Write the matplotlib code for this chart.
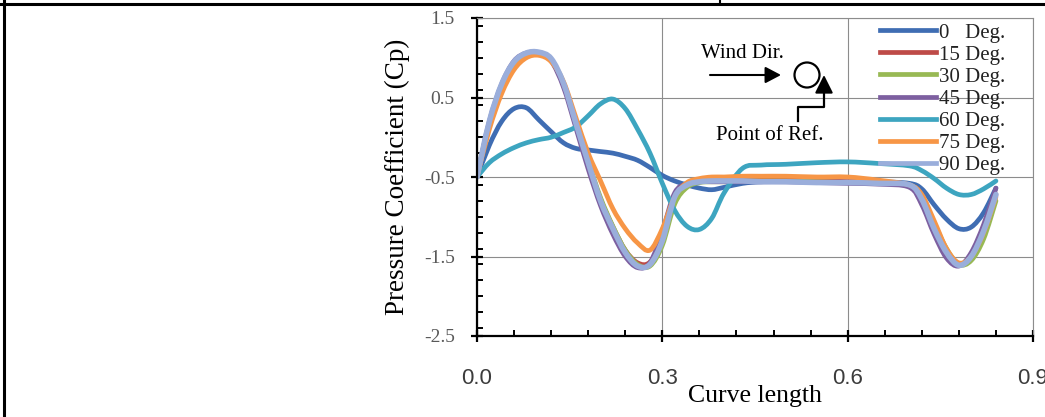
import matplotlib
matplotlib.use("Agg")
import matplotlib.pyplot as plt
import numpy as np
from matplotlib.lines import Line2D
from matplotlib.patches import Ellipse, PathPatch
from matplotlib.path import Path
from matplotlib.ticker import MultipleLocator

# Curve length positions (shared by all wind angles)
curve_length = [0.00, 0.02, 0.04, 0.06, 0.08, 0.10, 0.12, 0.14, 0.16, 0.18,
                0.20, 0.22, 0.24, 0.26, 0.28, 0.30, 0.32, 0.34, 0.36, 0.38,
                0.40, 0.43, 0.46, 0.50, 0.55, 0.60, 0.65, 0.70, 0.72, 0.74,
                0.76, 0.78, 0.80, 0.82, 0.84]

# Pressure coefficient for each wind angle
cp_0 = [-0.50, -0.10, 0.20, 0.36, 0.37, 0.22, 0.07, -0.07, -0.14, -0.16,
        -0.18, -0.20, -0.24, -0.29, -0.38, -0.48, -0.55, -0.60, -0.64, -0.66,
        -0.63, -0.58, -0.56, -0.55, -0.55, -0.56, -0.56, -0.58, -0.65, -0.85,
        -1.03, -1.15, -1.13, -0.95, -0.64]
cp_15 = [-0.50, 0.18, 0.65, 0.94, 1.05, 1.06, 0.97, 0.66, 0.17, -0.33,
         -0.78, -1.13, -1.42, -1.58, -1.57, -1.27, -0.76, -0.60, -0.56, -0.55,
         -0.55, -0.54, -0.54, -0.54, -0.55, -0.56, -0.57, -0.60, -0.77, -1.13,
         -1.44, -1.60, -1.50, -1.20, -0.72]
cp_30 = [-0.50, 0.17, 0.64, 0.94, 1.05, 1.06, 0.98, 0.68, 0.20, -0.30,
         -0.76, -1.12, -1.42, -1.60, -1.62, -1.36, -0.84, -0.63, -0.57, -0.56,
         -0.56, -0.55, -0.55, -0.55, -0.56, -0.57, -0.58, -0.60, -0.74, -1.08,
         -1.40, -1.60, -1.55, -1.28, -0.80]
cp_45 = [-0.50, 0.20, 0.67, 0.96, 1.06, 1.06, 0.96, 0.63, 0.12, -0.40,
         -0.86, -1.22, -1.50, -1.64, -1.58, -1.18, -0.70, -0.58, -0.56, -0.56,
         -0.56, -0.56, -0.56, -0.56, -0.57, -0.58, -0.59, -0.63, -0.85, -1.22,
         -1.52, -1.62, -1.45, -1.10, -0.64]
cp_60 = [-0.50, -0.32, -0.21, -0.13, -0.07, -0.03, 0.00, 0.06, 0.13, 0.27,
         0.42, 0.48, 0.36, 0.10, -0.20, -0.58, -0.92, -1.12, -1.16, -1.02,
         -0.70, -0.39, -0.35, -0.34, -0.32, -0.31, -0.33, -0.36, -0.42, -0.52,
         -0.64, -0.72, -0.72, -0.65, -0.55]
cp_75 = [-0.50, 0.10, 0.55, 0.85, 1.00, 1.03, 0.95, 0.70, 0.25, -0.20,
         -0.55, -0.90, -1.15, -1.33, -1.42, -1.15, -0.75, -0.57, -0.52, -0.50,
         -0.50, -0.49, -0.49, -0.49, -0.50, -0.50, -0.54, -0.60, -0.72, -1.05,
         -1.40, -1.58, -1.50, -1.20, -0.75]
cp_90 = [-0.50, 0.20, 0.67, 0.95, 1.06, 1.07, 0.99, 0.68, 0.18, -0.32,
         -0.80, -1.15, -1.45, -1.62, -1.60, -1.30, -0.75, -0.60, -0.56, -0.55,
         -0.55, -0.55, -0.56, -0.56, -0.57, -0.57, -0.58, -0.60, -0.78, -1.15,
         -1.45, -1.61, -1.50, -1.18, -0.72]

series_labels = ["0   Deg.", "15 Deg.", "30 Deg.", "45 Deg.", "60 Deg.", "75 Deg.", "90 Deg."]
series_values = [cp_0, cp_15, cp_30, cp_45, cp_60, cp_75, cp_90]
series_colors = ["#3F6DB3", "#BE4B48", "#98B954", "#7D5FA0", "#3DA5C0", "#F79646", "#9AAEDB"]

x_ticks = [0.0, 0.3, 0.6, 0.9]
x_tick_labels = ["0.0", "0.3", "0.6", "0.9"]
y_ticks = [1.5, 0.5, -0.5, -1.5, -2.5]
y_tick_labels = ["1.5", "0.5", "-0.5", "-1.5", "-2.5"]


def smooth_path(xs, ys):
    """Smoothed line through every data point (cubic Bezier segments)."""
    p = np.column_stack([xs, ys]).astype(float)
    n = len(p)
    verts = [p[0]]
    codes = [Path.MOVETO]
    for i in range(n - 1):
        p_prev = p[i - 1] if i > 0 else p[i]
        p_next2 = p[i + 2] if i + 2 < n else p[i + 1]
        c1 = p[i] + (p[i + 1] - p_prev) / 6.0
        c2 = p[i + 1] - (p_next2 - p[i]) / 6.0
        verts += [c1, c2, p[i + 1]]
        codes += [Path.CURVE4] * 3
    return Path(verts, codes)


W, H = 1045, 417
fig = plt.figure(figsize=(W / 100, H / 100), dpi=100)
fig.patch.set_facecolor("white")

ax = fig.add_axes([477 / W, 1 - 336 / H, (1033 - 477) / W, (336 - 18) / H])

handles = []
for vals, lab, col in zip(series_values, series_labels, series_colors):
    lw = 4.0 if lab.startswith("90") else 3.4
    ax.add_patch(PathPatch(smooth_path(curve_length, vals), fill=False,
                           edgecolor=col, lw=lw, capstyle="round", joinstyle="round"))
    handles.append(Line2D([], [], color=col, lw=3.4, label=lab))

ax.set_xlim(0, 0.9)
ax.set_ylim(-2.5, 1.5)

grid_col = "#8C8C8C"
ax.set_xticks(x_ticks)
ax.set_xticklabels(x_tick_labels)
ax.set_yticks(y_ticks)
ax.set_yticklabels(y_tick_labels)
ax.xaxis.set_minor_locator(MultipleLocator(0.06))
ax.yaxis.set_minor_locator(MultipleLocator(0.2))
ax.grid(True, which="major", color=grid_col, lw=0.8)
ax.set_axisbelow(True)

for s in ("top", "right"):
    ax.spines[s].set_color(grid_col)
    ax.spines[s].set_linewidth(0.8)
for s in ("left", "bottom"):
    ax.spines[s].set_color("black")
    ax.spines[s].set_linewidth(1.6)

ax.tick_params(axis="both", which="major", direction="inout", length=8,
               width=1.6, color="black")
ax.tick_params(axis="both", which="minor", direction="in", length=4,
               width=1.4, color="black")
ax.tick_params(axis="x", which="major", pad=19, labelsize=16, labelcolor="#3C3C3C")
ax.tick_params(axis="y", which="major", pad=12, labelsize=14, labelcolor="#595959")
for t in ax.get_xticklabels():
    t.set_fontfamily("Liberation Sans")
for t in ax.get_yticklabels():
    t.set_fontfamily("Liberation Serif")

ax.set_xlabel("Curve length", family="Liberation Serif", fontsize=18.5, labelpad=-3)
ax.set_ylabel("Pressure Coefficient (Cp)", family="Liberation Serif", fontsize=19.5,
              labelpad=10)

leg = ax.legend(handles=handles, loc="upper left", bbox_to_anchor=(880 / W, 1 - 23 / H),
                bbox_transform=fig.transFigure, frameon=False,
                prop={"family": "Liberation Serif", "size": 15},
                handlelength=2.7, handletextpad=0.12, labelspacing=0.12,
                borderpad=0, borderaxespad=0)
for t in leg.get_texts():
    t.set_color("#222222")

# Wind direction sketch
def fy(py):
    return H - py

fig.text(742 / W, fy(53) / H, "Wind Dir.", family="Liberation Serif", fontsize=15,
         ha="center", va="center")
fig.text(770 / W, fy(135) / H, "Point of Ref.", family="Liberation Serif", fontsize=15,
         ha="center", va="center")
ax.annotate("", xy=(781, fy(75)), xytext=(710, fy(75)), xycoords="figure pixels",
            textcoords="figure pixels",
            arrowprops=dict(arrowstyle="-|>,head_length=0.95,head_width=0.5",
                            color="black", lw=1.5, shrinkA=0, shrinkB=0))
fig.add_artist(Ellipse((807 / W, fy(75) / H), 25 / W, 25 / H, transform=fig.transFigure,
                       fill=False, edgecolor="black", lw=1.6))
fig.add_artist(Line2D([798 / W, 798 / W, 824 / W, 824 / W],
                      [fy(121) / H, fy(107) / H, fy(107) / H, fy(90) / H],
                      transform=fig.transFigure, color="black", lw=1.6))
ax.annotate("", xy=(824, fy(75)), xytext=(824, fy(92)), xycoords="figure pixels",
            textcoords="figure pixels",
            arrowprops=dict(arrowstyle="-|>,head_length=1.1,head_width=0.55",
                            color="black", lw=1.5, shrinkA=0, shrinkB=0))

# Table cell borders around the figure
fig.add_artist(Line2D([0, 1], [fy(4) / H, fy(4) / H], transform=fig.transFigure,
                      color="black", lw=2.2))
fig.add_artist(Line2D([4 / W, 4 / W], [0, 1], transform=fig.transFigure,
                      color="black", lw=2.2))
fig.add_artist(Line2D([720 / W, 720 / W], [fy(4) / H, 1], transform=fig.transFigure,
                      color="black", lw=1.5))

fig.savefig("out.png", dpi=100, facecolor="white")
